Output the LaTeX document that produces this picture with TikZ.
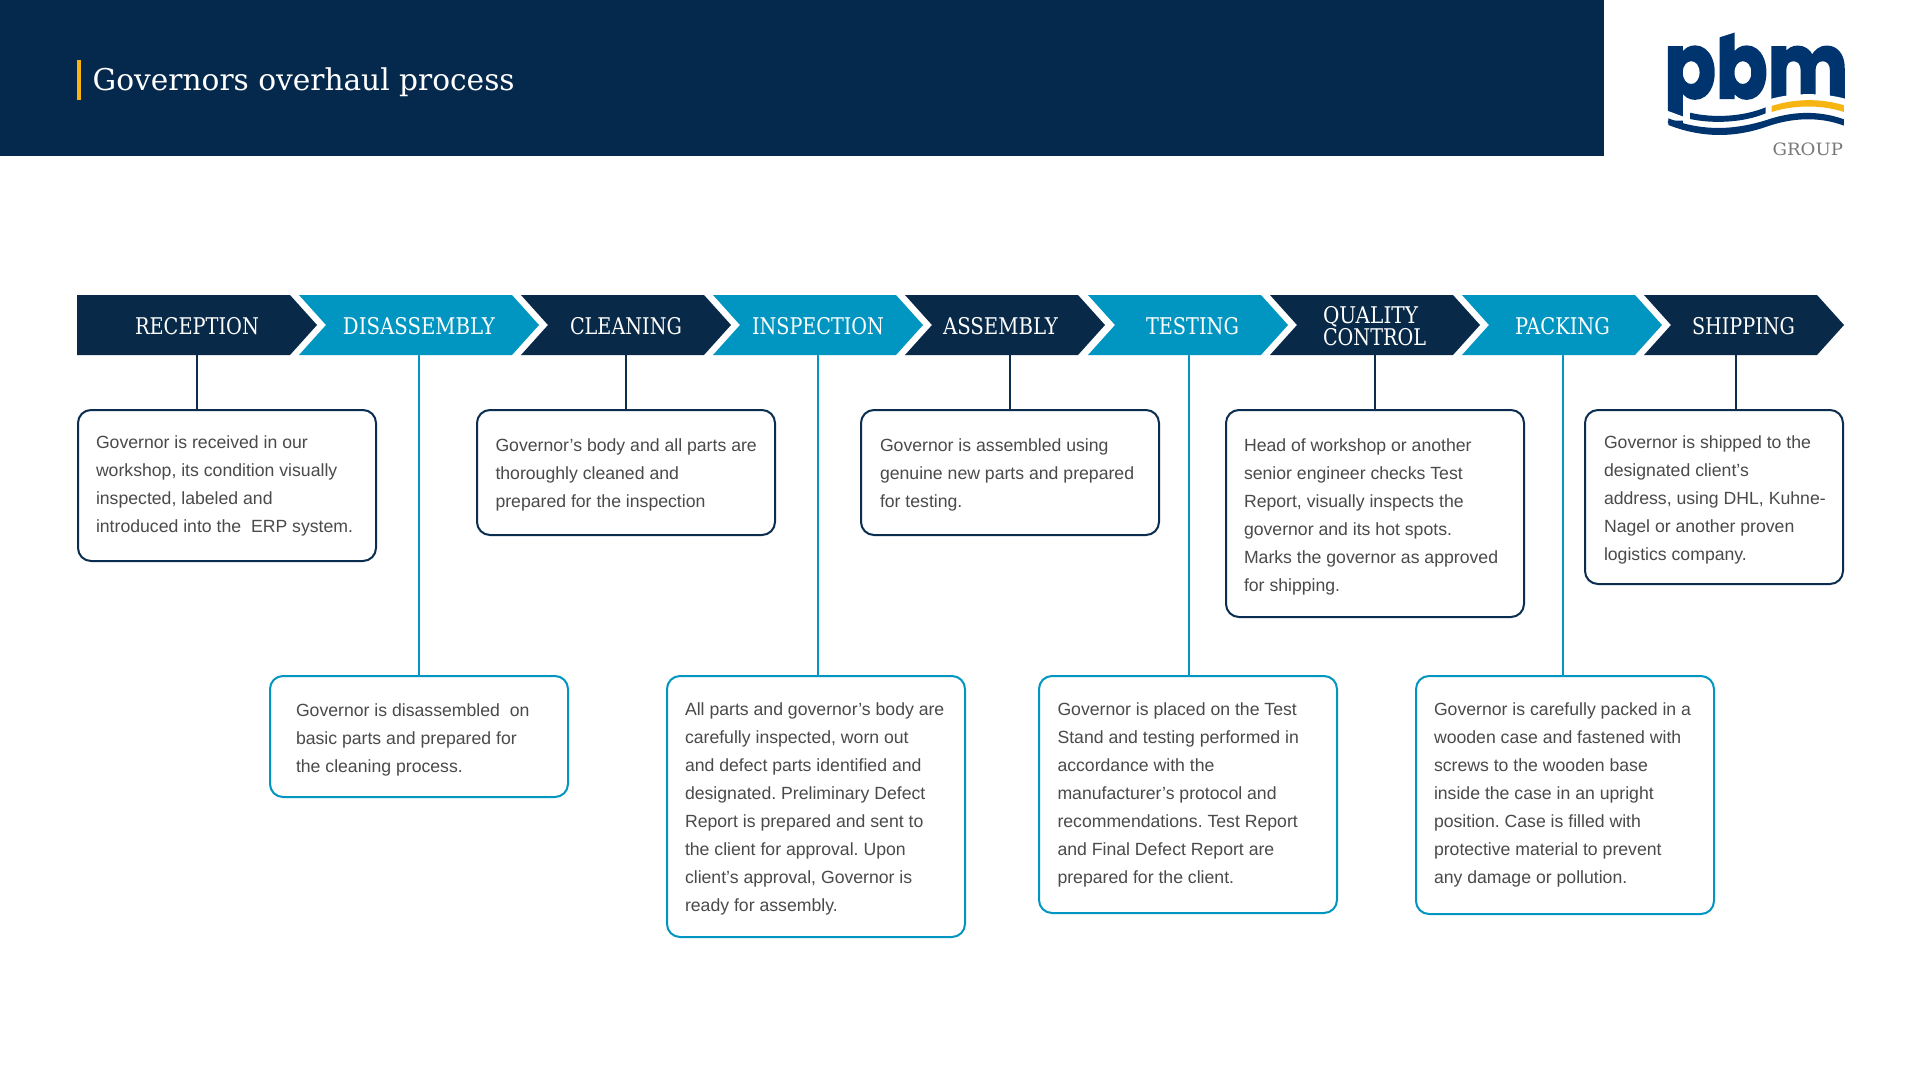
\documentclass[tikz,border=0pt]{standalone}
\usepackage{fontspec}
\usepackage{graphicx}
\setmainfont{Liberation Sans}
\newfontfamily\slabfont{DejaVu Serif}
\newfontfamily\pbmfont[BoldFeatures={FakeBold=2.5}]{Poppins}
\definecolor{hdr}{HTML}{05294D}
\definecolor{navy}{HTML}{082947}
\definecolor{teal}{HTML}{0096C1}
\definecolor{boxnavy}{HTML}{0B2D50}
\definecolor{gold}{HTML}{F7B512}
\definecolor{bodygray}{HTML}{4A4A4A}
\definecolor{logoblue}{HTML}{00346F}
\definecolor{logogray}{HTML}{787878}
\tikzset{
  darkbox/.style={draw=boxnavy,line width=2pt,rounded corners=13pt,fill=white,inner sep=0pt,outer sep=0pt,minimum width=298pt},
  bluebox/.style={draw=teal,line width=2pt,rounded corners=13pt,fill=white,inner sep=0pt,outer sep=0pt,minimum width=298pt},
  darkline/.style={draw=boxnavy,line width=2pt},
  blueline/.style={draw=teal,line width=2pt},
  bodytext/.style={anchor=base west,inner sep=0pt,outer sep=0pt,text=bodygray,font=\frenchspacing\fontsize{17.65}{28}\selectfont},
  steptext/.style={inner sep=0pt,outer sep=0pt,text=white,anchor=base,font=\slabfont\fontsize{23}{22}\selectfont},
}
\newcommand{\Ln}[1]{\hbox{#1}}
\newcommand{\Blk}[1]{\vtop{\baselineskip=28pt\lineskiplimit=-20pt #1}}
\newcommand{\fitw}[2]{\resizebox{#1pt}{\height}{#2}}
\newcommand{\chev}[3]{\fill[#3] (#1,295) -- (#2,295) -- ++(27,30) -- (#2,355) -- (#1,355) -- ++(27,-30) -- cycle;}
\begin{document}
\begin{tikzpicture}[x=1pt,y=-1pt]
\useasboundingbox (0,0) rectangle (1920,1080);
\fill[white] (0,0) rectangle (1920,1080);
% header
\fill[hdr] (0,0) rectangle (1604,156);
\fill[gold] (77,60) rectangle (81,100);
\node[anchor=base west,inner sep=0pt,text=white,font=\slabfont\fontsize{30}{30}\selectfont] (title) at (92.5,90.5) {\fitw{422}{Governors overhaul process}};
% logo
\begin{scope}[shift={(1600,0)},x=0.3333pt,y=-0.3333pt]
\node[anchor=base west,inner sep=0pt,text=logoblue,font=\pbmfont\bfseries\fontsize{91}{91}\selectfont] (pbm) at (192,294) {\resizebox{184pt}{\height}{pbm}};
\fill[white] (185,326) -- (250,350) -- (262,362) -- (185,362) -- cycle;
\fill[white] (350,85) -- (408,85) -- (408,96) -- (358,112) -- (350,112) -- cycle;
\fill[white] (505,300) -- (515,296) .. controls (580,278) and (670,278) .. (735,296) -- (745,310) -- (505,310) -- cycle;
\fill[white] (735,130) rectangle (770,310);
\fill[gold] (515,318) .. controls (585,295) and (665,295) .. (732,316) -- (732,336) .. controls (665,314) and (585,314) .. (515,336) -- cycle;
\fill[logoblue] (270,338) .. controls (340,355) and (430,350) .. (497,322) -- (497,340) .. controls (430,368) and (340,372) .. (270,357) -- cycle;
\fill[logoblue] (205,355) .. controls (320,400) and (420,385) .. (500,360) .. controls (580,332) and (660,332) .. (732,358) -- (732,377) .. controls (660,350) and (580,352) .. (500,380) .. controls (420,408) and (320,420) .. (205,375) -- cycle;
\node[anchor=base west,inner sep=0pt,text=logogray,font=\slabfont\fontsize{17}{17}\selectfont] (grp) at (517,468) {\resizebox{70.5pt}{\height}{GROUP}};
\end{scope}
% chevrons
\fill[navy] (77,295) -- (290,295) -- (317,325) -- (290,355) -- (77,355) -- cycle;
\chev{299}{512}{teal}
\chev{521}{704}{navy}
\chev{713}{896}{teal}
\chev{905}{1078}{navy}
\chev{1088}{1261}{teal}
\chev{1270}{1453}{navy}
\chev{1462}{1635}{teal}
\chev{1644}{1817}{navy}
% chevron labels
\node[steptext] (s1) at (197,334) {\fitw{124}{RECEPTION}};
\node[steptext] (s2) at (419,334) {\fitw{152}{DISASSEMBLY}};
\node[steptext] (s3) at (626,334) {\fitw{112}{CLEANING}};
\node[steptext] (s4) at (818,334) {\fitw{132}{INSPECTION}};
\node[steptext] (s5) at (1000.5,334) {\fitw{115}{ASSEMBLY}};
\node[steptext] (s6) at (1192.5,334) {\fitw{93}{TESTING}};
\node[steptext,anchor=base west] (s7a) at (1323,323) {\fitw{95}{QUALITY}};
\node[steptext,anchor=base west] (s7b) at (1323,345) {\fitw{103}{CONTROL}};
\node[steptext] (s8) at (1562.5,334) {\fitw{95}{PACKING}};
\node[steptext] (s9) at (1743.5,334) {\fitw{103}{SHIPPING}};
% connector start points
\coordinate (c1) at (197,355);
\coordinate (c2) at (419,355);
\coordinate (c3) at (626,355);
\coordinate (c4) at (818,355);
\coordinate (c5) at (1010,355);
\coordinate (c6) at (1188.5,355);
\coordinate (c7) at (1375,355);
\coordinate (c8) at (1562.5,355);
\coordinate (c9) at (1736,355);
% boxes
\node[darkbox,minimum height=151pt] (b1) at (227,485.5) {};
\node[bluebox,minimum height=121pt] (b2) at (419,736.5) {};
\node[darkbox,minimum height=125pt] (b3) at (626,472.5) {};
\node[bluebox,minimum height=261pt] (b4) at (816,806.5) {};
\node[darkbox,minimum height=125pt] (b5) at (1010,472.5) {};
\node[bluebox,minimum height=237pt] (b6) at (1188,794.5) {};
\node[darkbox,minimum height=207pt] (b7) at (1375,513.5) {};
\node[bluebox,minimum height=238pt] (b8) at (1565,795) {};
\node[darkbox,minimum width=258pt,minimum height=174pt] (b9) at (1714,497) {};
% connectors
\draw[darkline] (c1) -- (c1 |- b1.north);
\draw[blueline] (c2) -- (c2 |- b2.north);
\draw[darkline] (c3) -- (c3 |- b3.north);
\draw[blueline] (c4) -- (c4 |- b4.north);
\draw[darkline] (c5) -- (c5 |- b5.north);
\draw[blueline] (c6) -- (c6 |- b6.north);
\draw[darkline] (c7) -- (c7 |- b7.north);
\draw[blueline] (c8) -- (c8 |- b8.north);
\draw[darkline] (c9) -- (c9 |- b9.north);
% box texts
\node[bodytext] (t1) at (96,448) {\Blk{\Ln{Governor is received in our}\Ln{workshop, its condition visually}\Ln{inspected, labeled and}\Ln{introduced into the\ \ ERP system.}}};
\node[bodytext] (t2) at (296,716.5) {\Blk{\Ln{Governor is disassembled\ \ on}\Ln{basic parts and prepared for}\Ln{the cleaning process.}}};
\node[bodytext] (t3) at (495.5,451) {\Blk{\Ln{Governor’s body and all parts are}\Ln{thoroughly cleaned and}\Ln{prepared for the inspection}}};
\node[bodytext] (t4) at (685,715) {\Blk{\Ln{All parts and governor’s body are}\Ln{carefully inspected, worn out}\Ln{and defect parts identified and}\Ln{designated. Preliminary Defect}\Ln{Report is prepared and sent to}\Ln{the client for approval. Upon}\Ln{client’s approval, Governor is}\Ln{ready for assembly.}}};
\node[bodytext] (t5) at (880,451) {\Blk{\Ln{Governor is assembled using}\Ln{genuine new parts and prepared}\Ln{for testing.}}};
\node[bodytext] (t6) at (1057.5,715) {\Blk{\Ln{Governor is placed on the Test}\Ln{Stand and testing performed in}\Ln{accordance with the}\Ln{manufacturer’s protocol and}\Ln{recommendations. Test Report}\Ln{and Final Defect Report are}\Ln{prepared for the client.}}};
\node[bodytext] (t7) at (1244,451) {\Blk{\Ln{Head of workshop or another}\Ln{senior engineer checks Test}\Ln{Report, visually inspects the}\Ln{governor and its hot spots.}\Ln{Marks the governor as approved}\Ln{for shipping.}}};
\node[bodytext] (t8) at (1434,715) {\Blk{\Ln{Governor is carefully packed in a}\Ln{wooden case and fastened with}\Ln{screws to the wooden base}\Ln{inside the case in an upright}\Ln{position. Case is filled with}\Ln{protective material to prevent}\Ln{any damage or pollution.}}};
\node[bodytext] (t9) at (1604,448) {\Blk{\Ln{Governor is shipped to the}\Ln{designated client’s}\Ln{address, using DHL, Kuhne-}\Ln{Nagel or another proven}\Ln{logistics company.}}};
\end{tikzpicture}
\end{document}
